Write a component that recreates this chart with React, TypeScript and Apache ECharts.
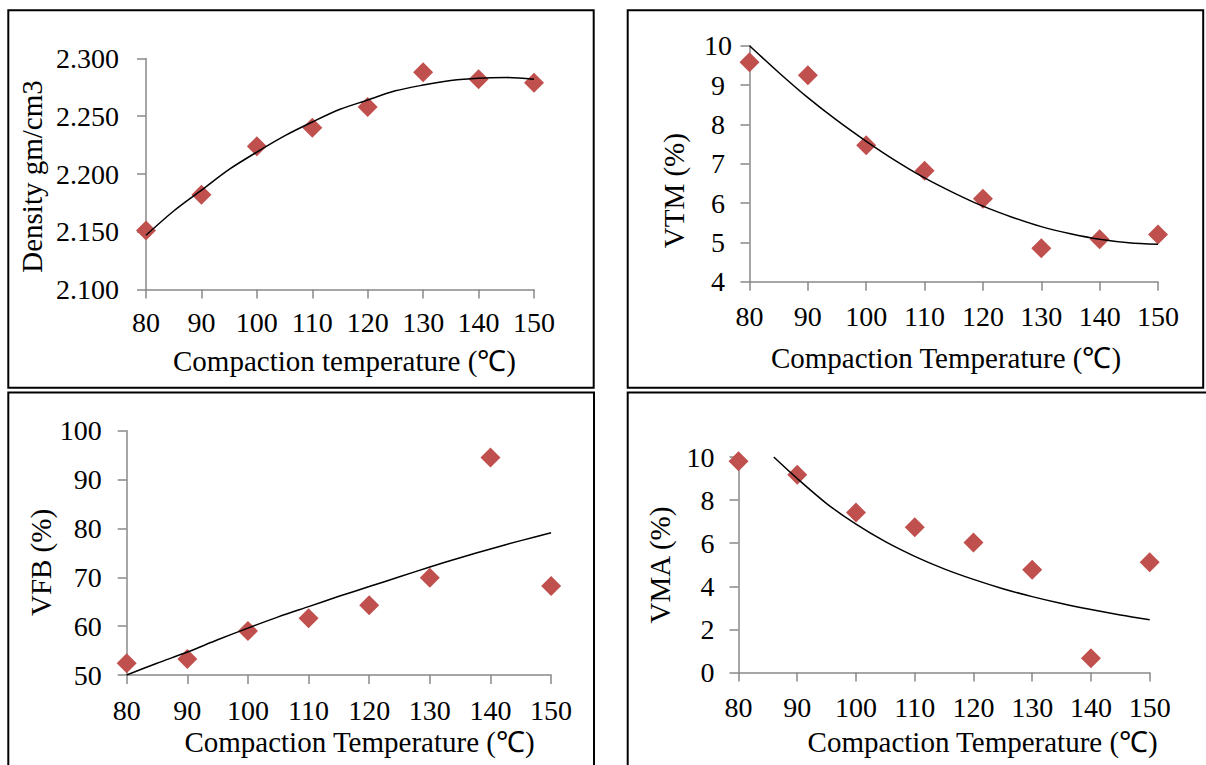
import React, { useEffect, useRef } from "react";
import * as echarts from "echarts";

// ---- data ----
const temps = [80, 90, 100, 110, 120, 130, 140, 150];
const xTicks = [80, 90, 100, 110, 120, 130, 140, 150];

const density = [2.151, 2.182, 2.224, 2.24, 2.258, 2.288, 2.282, 2.279];
const densityTrendX = [80, 85, 90, 95, 100, 105, 110, 115, 120, 125, 130, 135, 140, 145, 150];
const densityTrend = [2.147, 2.168, 2.186, 2.204, 2.219, 2.233, 2.245, 2.256, 2.264, 2.272, 2.277, 2.281, 2.283, 2.2835, 2.282];

const vtm = [9.58, 9.25, 7.47, 6.82, 6.11, 4.85, 5.08, 5.2];
const vtmTrendX = [80, 85, 90, 95, 100, 105, 110, 115, 120, 125, 130, 135, 140, 145, 150];
const vtmTrend = [10.0, 9.32, 8.68, 8.1, 7.57, 7.08, 6.64, 6.26, 5.92, 5.64, 5.4, 5.22, 5.08, 4.99, 4.95];

const vfb = [52.4, 53.3, 59.0, 61.6, 64.3, 69.9, 94.5, 68.2];
const vfbTrendX = [80, 85, 90, 95, 100, 105, 110, 115, 120, 125, 130, 135, 140, 145, 150];
const vfbTrend = [50.0, 52.4, 54.7, 57.2, 59.6, 61.9, 64.0, 66.1, 68.1, 70.1, 72.1, 74.0, 75.8, 77.5, 79.1];

const vma = [9.8, 9.18, 7.42, 6.74, 6.03, 4.77, 0.66, 5.12];
const vmaTrendX = [86, 90, 95, 100, 105, 110, 115, 120, 125, 130, 135, 140, 145, 150];
const vmaTrend = [10.0, 9.0, 7.84, 6.88, 6.07, 5.39, 4.81, 4.32, 3.89, 3.52, 3.2, 2.92, 2.67, 2.45];

const yTitles = ["Density gm/cm3", "VTM (%)", "VFB (%)", "VMA (%)"];
const xTitles = [
  "Compaction temperature (\u2103)",
  "Compaction Temperature (\u2103)",
  "Compaction Temperature (\u2103)",
  "Compaction Temperature (\u2103)",
];

const FONT = '"Liberation Serif", "Times New Roman", serif';
const AXIS_COLOR = "#898989";
const MARK_COLOR = "#C0504D";

export default function App() {
  const ref = useRef<HTMLDivElement>(null);

  useEffect(() => {
    if (!ref.current) return;
    const chart = echarts.init(ref.current, null, { renderer: "svg" });

    const grids = [
      { left: 146, top: 58.5, width: 388, height: 231 },
      { left: 749.5, top: 45.7, width: 408.5, height: 236 },
      { left: 126.7, top: 430.7, width: 424.4, height: 244.3 },
      { left: 738.5, top: 457, width: 411.2, height: 215.5 },
    ];
    const yCfg = [
      { min: 2.1, max: 2.3, interval: 0.05, margin: 27, align: "right", fmt: (v: number) => v.toFixed(3) },
      { min: 4, max: 10, interval: 1, margin: 31.5, align: "center", fmt: (v: number) => String(v) },
      { min: 50, max: 100, interval: 10, margin: 25, align: "right", fmt: (v: number) => String(v) },
      { min: 0, max: 10, interval: 2, margin: 24, align: "right", fmt: (v: number) => String(v) },
    ];
    const xMargins = [19, 21, 21, 21];

    const axisLine = { show: true, onZero: false, lineStyle: { color: AXIS_COLOR, width: 1.5 } };
    const axisTick = { show: true, length: 9, lineStyle: { color: AXIS_COLOR, width: 1.5 } };

    const xAxis = grids.map((_, i) => ({
      type: "value",
      gridIndex: i,
      min: xTicks[0],
      max: xTicks[xTicks.length - 1],
      interval: 10,
      axisLine,
      axisTick,
      splitLine: { show: false },
      axisLabel: { fontFamily: FONT, fontSize: 28, color: "#000", margin: xMargins[i] },
    }));

    const yAxis = yCfg.map((c, i) => ({
      type: "value",
      gridIndex: i,
      min: c.min,
      max: c.max,
      interval: c.interval,
      axisLine,
      axisTick,
      splitLine: { show: false },
      axisLabel: {
        fontFamily: FONT,
        fontSize: 28,
        color: "#000",
        margin: c.margin,
        align: c.align,
        formatter: c.fmt,
      },
    }));

    const pts = [density, vtm, vfb, vma];
    const trendX = [densityTrendX, vtmTrendX, vfbTrendX, vmaTrendX];
    const trendY = [densityTrend, vtmTrend, vfbTrend, vmaTrend];

    const series: any[] = [];
    pts.forEach((arr, i) => {
      series.push({
        type: "scatter",
        xAxisIndex: i,
        yAxisIndex: i,
        symbol: "diamond",
        symbolSize: 20,
        itemStyle: { color: MARK_COLOR, opacity: 1 },
        z: 2,
        data: temps.map((t, k) => [t, arr[k]]),
      });
      series.push({
        type: "line",
        xAxisIndex: i,
        yAxisIndex: i,
        symbol: "none",
        smooth: 0.3,
        lineStyle: { color: "#000", width: 1.5 },
        z: 3,
        data: trendX[i].map((t, k) => [t, trendY[i][k]]),
      });
    });

    const border = (x: number, y: number, w: number, h: number) => ({
      type: "rect",
      shape: { x, y, width: w, height: h },
      style: { fill: "none", stroke: "#000", lineWidth: 2 },
      silent: true,
    });

    const yTitlePos = [
      [32, 176.5],
      [674, 190.7],
      [40.5, 562.5],
      [660, 565],
    ];
    const xTitlePos = [
      [344.5, 361],
      [946, 357.7],
      [359.5, 741.7],
      [982.7, 741.7],
    ];

    const graphic: any[] = [
      border(8.3, 10.3, 585.4, 377.4),
      border(627.7, 10.3, 575.5, 377.4),
      border(8.3, 392.5, 585.7, 400),
      border(627.7, 392.5, 600, 400),
    ];
    yTitles.forEach((t, i) => {
      graphic.push({
        type: "text",
        x: yTitlePos[i][0],
        y: yTitlePos[i][1],
        rotation: Math.PI / 2,
        style: {
          text: t,
          x: 0,
          y: 0,
          align: "center",
          verticalAlign: "middle",
          fill: "#000",
          font: `29px ${FONT}`,
        },
      });
    });
    xTitles.forEach((t, i) => {
      graphic.push({
        type: "text",
        x: xTitlePos[i][0],
        y: xTitlePos[i][1],
        style: {
          text: t,
          x: 0,
          y: 0,
          align: "center",
          verticalAlign: "middle",
          fill: "#000",
          font: `29px ${FONT}`,
        },
      });
    });

    chart.setOption({
      animation: false,
      backgroundColor: "#fff",
      grid: grids.map((g) => ({ ...g, containLabel: false })),
      xAxis,
      yAxis,
      series,
      graphic,
    });

    return () => chart.dispose();
  }, []);

  return (
    <div
      ref={ref}
      style={{ position: "absolute", left: 0, top: 0, width: 1206, height: 765 }}
    />
  );
}
